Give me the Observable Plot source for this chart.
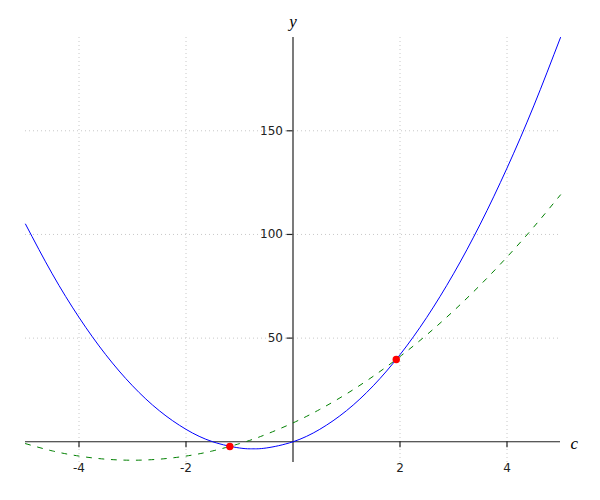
<!DOCTYPE html>
<html>
<head>
<meta charset="utf-8">
<script src="https://cdn.jsdelivr.net/npm/d3@7"></script>
<script src="https://cdn.jsdelivr.net/npm/@observablehq/plot@0.6"></script>
<style>
  html, body { margin: 0; padding: 0; background: #fff; }
  #chart svg { display: block; }
</style>
</head>
<body>
<div id="chart"></div>
<script>
// Sample positions along c
const cValues = [-5, -4.5, -4, -3.5, -3, -2.5, -2, -1.5, -1, -0.75, -0.5, 0, 0.5, 1, 1.5, 2, 2.5, 3, 3.5, 4, 4.5, 5];
// Solid blue curve values
const blueValues = [105, 81, 60, 42, 27, 15, 6, 0, -3, -3.4, -3, 0, 6, 15, 27, 42, 60, 81, 105, 132, 162, 195];
// Dashed green curve values
const greenValues = [-0.9, -4.4, -6.9, -8.4, -8.9, -8.4, -6.9, -4.4, -0.9, 1.2, 3.6, 9.1, 15.6, 23.1, 31.6, 41.1, 51.6, 63.1, 75.6, 89.1, 103.6, 119.1];
// Red intersection points
const pointC = [-1.18, 1.93];
const pointY = [-2.27, 39.7];
// Ticks
const xTicks = [-4, -2, 2, 4];
const yTicks = [50, 100, 150];

const blue = cValues.map((c, i) => ({c, y: blueValues[i]}));
const green = cValues.map((c, i) => ({c, y: greenValues[i]}));
const pts = pointC.map((c, i) => ({c, y: pointY[i]}));

const tickFont = "DejaVu Sans, sans-serif";
const labelFont = "Liberation Serif, DejaVu Serif, serif";

const chart = Plot.plot({
  width: 600,
  height: 500,
  marginLeft: 25,
  marginRight: 40,
  marginTop: 37,
  marginBottom: 38,
  x: {domain: [-5, 5], axis: null},
  y: {domain: [-10, 195], axis: null},
  marks: [
    // grid
    Plot.ruleX(xTicks, {x: d => d, y1: -10, y2: 195, stroke: "#c8c8c8", strokeDasharray: "1,3", strokeWidth: 1}),
    Plot.ruleY(yTicks, {y: d => d, x1: -5, x2: 5, stroke: "#c8c8c8", strokeDasharray: "1,3", strokeWidth: 1}),
    // axes
    Plot.ruleY([0], {x1: -5, x2: 5, stroke: "#222", strokeWidth: 1.2}),
    Plot.ruleX([0], {y1: -10, y2: 195, stroke: "#222", strokeWidth: 1.2}),
    // tick marks
    Plot.ruleX(xTicks, {x: d => d, y1: 0, y2: 0, insetBottom: -6, stroke: "#222", strokeWidth: 1.2}),
    Plot.ruleY(yTicks, {y: d => d, x1: 0, x2: 0, insetLeft: -6, stroke: "#222", strokeWidth: 1.2}),
    // tick labels
    Plot.text(xTicks, {x: d => d, y: 0, dy: 26, text: d => String(d), fontSize: 12, fontFamily: tickFont, fill: "#222"}),
    Plot.text(yTicks, {x: 0, y: d => d, dx: -10, textAnchor: "end", text: d => String(d), fontSize: 12, fontFamily: tickFont, fill: "#222"}),
    // axis labels
    Plot.text(["y"], {x: 0, y: 195, dy: -16, text: d => d, fontSize: 17, fontStyle: "italic", fontFamily: labelFont, fill: "#000"}),
    Plot.text(["c"], {x: 5, y: 0, dx: 10, dy: 2, textAnchor: "start", text: d => d, fontSize: 17, fontStyle: "italic", fontFamily: labelFont, fill: "#000"}),
    // curves
    Plot.line(green, {x: "c", y: "y", stroke: "green", strokeWidth: 1, strokeDasharray: "5,7.5", curve: "natural"}),
    Plot.line(blue, {x: "c", y: "y", stroke: "blue", strokeWidth: 1, curve: "natural"}),
    Plot.dot(pts, {x: "c", y: "y", r: 3.7, fill: "red", stroke: "none"})
  ]
});
document.getElementById("chart").append(chart);
</script>
</body>
</html>
